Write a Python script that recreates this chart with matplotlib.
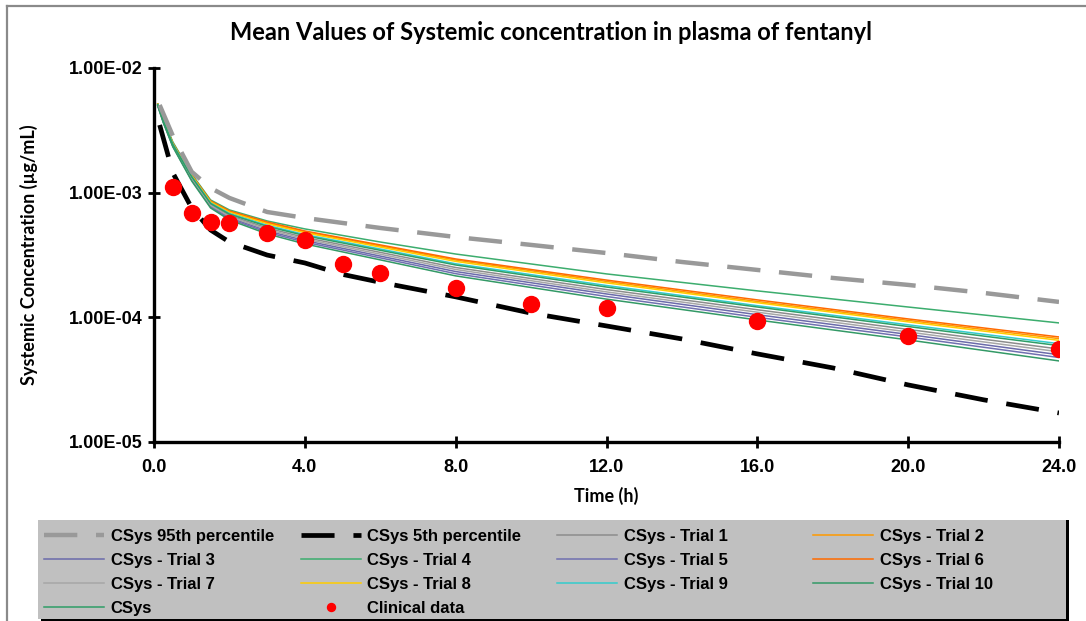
import numpy as np
import matplotlib
matplotlib.use("Agg")
import matplotlib.pyplot as plt
from matplotlib.lines import Line2D
from matplotlib.patches import Rectangle

# simulated time points (h)
t_sim = [0.1, 0.25, 0.5, 1, 1.5, 2, 3, 4, 6, 8, 12, 16, 20, 24]

# mean systemic concentration per trial (ug/mL)
trial_1 = [5.05e-3, 3.73e-3, 2.41e-3, 1.31e-3, 8.05e-4, 6.56e-4, 5.21e-4, 4.37e-4, 3.32e-4, 2.51e-4, 1.67e-4, 1.15e-4, 8.00e-5, 5.57e-5]
trial_2 = [5.13e-3, 3.81e-3, 2.49e-3, 1.38e-3, 8.50e-4, 7.05e-4, 5.73e-4, 4.85e-4, 3.74e-4, 2.88e-4, 1.94e-4, 1.34e-4, 9.45e-5, 6.75e-5]
trial_3 = [5.00e-3, 3.68e-3, 2.37e-3, 1.28e-3, 7.80e-4, 6.31e-4, 4.94e-4, 4.13e-4, 3.10e-4, 2.33e-4, 1.54e-4, 1.05e-4, 7.29e-5, 5.01e-5]
trial_4 = [5.14e-3, 3.83e-3, 2.55e-3, 1.41e-3, 8.74e-4, 7.27e-4, 5.93e-4, 5.12e-4, 4.02e-4, 3.22e-4, 2.23e-4, 1.63e-4, 1.21e-4, 9.02e-5]
trial_5 = [4.98e-3, 3.65e-3, 2.35e-3, 1.26e-3, 7.68e-4, 6.18e-4, 4.81e-4, 4.01e-4, 3.00e-4, 2.24e-4, 1.47e-4, 1.00e-4, 6.96e-5, 4.76e-5]
trial_6 = [5.14e-3, 3.83e-3, 2.50e-3, 1.39e-3, 8.58e-4, 7.13e-4, 5.82e-4, 4.93e-4, 3.81e-4, 2.94e-4, 1.99e-4, 1.38e-4, 9.71e-5, 6.96e-5]
trial_7 = [5.02e-3, 3.70e-3, 2.39e-3, 1.30e-3, 7.92e-4, 6.43e-4, 5.07e-4, 4.25e-4, 3.21e-4, 2.42e-4, 1.60e-4, 1.10e-4, 7.63e-5, 5.29e-5]
trial_8 = [5.11e-3, 3.80e-3, 2.47e-3, 1.37e-3, 8.43e-4, 6.97e-4, 5.64e-4, 4.77e-4, 3.66e-4, 2.81e-4, 1.89e-4, 1.31e-4, 9.20e-5, 6.54e-5]
trial_9 = [5.09e-3, 3.77e-3, 2.45e-3, 1.35e-3, 8.27e-4, 6.81e-4, 5.47e-4, 4.61e-4, 3.53e-4, 2.69e-4, 1.80e-4, 1.24e-4, 8.71e-5, 6.15e-5]
trial_10 = [4.96e-3, 3.62e-3, 2.33e-3, 1.24e-3, 7.54e-4, 6.04e-4, 4.67e-4, 3.88e-4, 2.89e-4, 2.15e-4, 1.40e-4, 9.53e-5, 6.59e-5, 4.47e-5]
csys = [5.07e-3, 3.75e-3, 2.43e-3, 1.34e-3, 8.19e-4, 6.72e-4, 5.37e-4, 4.52e-4, 3.45e-4, 2.63e-4, 1.75e-4, 1.21e-4, 8.44e-5, 5.93e-5]

# percentiles
t_p95 = [0.15, 0.5, 1, 1.5, 2, 3, 4, 6, 8, 10, 12, 14, 16, 18, 20, 22, 24]
p95 = [5.05e-3, 2.85e-3, 1.47e-3, 1.09e-3, 9.07e-4, 7.00e-4, 6.27e-4, 5.21e-4, 4.41e-4, 3.81e-4, 3.28e-4,
       2.78e-4, 2.40e-4, 2.07e-4, 1.82e-4, 1.57e-4, 1.33e-4]
t_p5 = [0.15, 0.37, 0.5, 1, 1.5, 2, 3, 4, 5, 6, 8, 10, 12, 14, 16, 18, 20, 22, 24]
p5 = [3.49e-3, 2.01e-3, 1.44e-3, 7.54e-4, 5.02e-4, 4.02e-4, 3.16e-4, 2.73e-4, 2.21e-4, 1.91e-4, 1.46e-4,
      1.08e-4, 8.53e-5, 6.71e-5, 5.09e-5, 3.93e-5, 2.87e-5, 2.18e-5, 1.71e-5]

# clinical observations
t_clin = [0.5, 1, 1.5, 2, 3, 4, 5, 6, 8, 10, 12, 16, 20, 24]
c_clin = [1.12e-3, 6.91e-4, 5.85e-4, 5.68e-4, 4.78e-4, 4.18e-4, 2.68e-4, 2.26e-4, 1.71e-4, 1.28e-4, 1.18e-4,
          9.41e-5, 7.09e-5, 5.55e-5]

trials = [trial_1, trial_2, trial_3, trial_4, trial_5, trial_6, trial_7, trial_8, trial_9, trial_10]
trial_colors = ['#8c8c8c', '#ff9900', '#6b6baa', '#3cad6e', '#7070b0', '#ff6a00',
                '#a6a6a6', '#ffcc00', '#33cccc', '#339966']

W, H = 1086, 621
fig = plt.figure(figsize=(W / 100, H / 100), dpi=100)
fig.patch.set_facecolor('white')

# outer chart frame (top and left edges visible)
fig.add_artist(Line2D([7 / W, 1], [1 - 6 / H, 1 - 6 / H], color='#8a8a8a', lw=1.6))
fig.add_artist(Line2D([7 / W, 7 / W], [0, 1 - 6 / H], color='#8a8a8a', lw=1.6))

ax = fig.add_axes([154 / W, 1 - 442 / H, 905 / W, 374 / H])

handles = {}
handles['p95'], = ax.plot(t_p95, p95, color='#999999', lw=3.2, dashes=(7.5, 4.2),
                          label='CSys 95th percentile', zorder=3)
handles['p5'], = ax.plot(t_p5, p5, color='black', lw=3.4, dashes=(7.0, 4.0),
                         label='CSys 5th percentile', zorder=3)
for i, (vals, col) in enumerate(zip(trials, trial_colors)):
    handles['t%d' % (i + 1)], = ax.plot(t_sim, vals, color=col, lw=1.1,
                                        label='CSys - Trial %d' % (i + 1), zorder=2)
handles['csys'], = ax.plot(t_sim, csys, color='#2e9e66', lw=1.1, label='CSys', zorder=2)
handles['clin'], = ax.plot(t_clin, c_clin, 'o', color='red', ms=11.5, mec='red',
                           label='Clinical data', zorder=4)

ax.set_yscale('log')
ax.set_ylim(1e-5, 1e-2)
ax.set_xlim(0, 24)
ax.set_xticks(np.arange(0, 25, 4))
ax.set_xticklabels(['%.1f' % v for v in np.arange(0, 25, 4)])
ax.set_yticks([1e-5, 1e-4, 1e-3, 1e-2])
ax.set_yticklabels(['1.00E-05', '1.00E-04', '1.00E-03', '1.00E-02'])
ax.yaxis.set_minor_locator(matplotlib.ticker.NullLocator())

for s in ['top', 'right']:
    ax.spines[s].set_visible(False)
for s in ['left', 'bottom']:
    ax.spines[s].set_linewidth(2.4)
ax.tick_params(axis='both', direction='inout', length=8, width=2, labelsize=13)
ax.tick_params(axis='x', pad=8)
ax.tick_params(axis='y', pad=4)
for lab in ax.get_xticklabels() + ax.get_yticklabels():
    lab.set_fontweight('bold')
    lab.set_fontfamily('Liberation Sans')

ax.set_xlabel('Time (h)', fontsize=13, fontweight='bold', family='Lato', labelpad=8)
ax.set_ylabel('Systemic Concentration (µg/mL)', fontsize=13, fontweight='bold', family='Lato')
ax.yaxis.set_label_coords(-(154 - 38) / 905, 0.5)

fig.text(0.507, 1 - 32 / H, 'Mean Values of Systemic concentration in plasma of fentanyl',
         ha='center', va='center', fontsize=17, fontweight='bold', family='Lato')

# legend panel: grey box with black drop shadow
fig.add_artist(Rectangle((41 / W, -0.01), 1028 / W, 1 - 517 / H + 0.01 - 3 / H,
                         transform=fig.transFigure, facecolor='black', edgecolor='none', zorder=5))
fig.add_artist(Rectangle((38 / W, 2 / H), 1028 / W, 1 - 520 / H - 2 / H,
                         transform=fig.transFigure, facecolor='#c0c0c0', edgecolor='none', zorder=6))

columns = [['p95', 't3', 't7', 'csys'], ['p5', 't4', 't8', 'clin'],
           ['t1', 't5', 't9'], ['t2', 't6', 't10']]
for k, keys in enumerate(columns):
    leg = fig.legend([handles[key] for key in keys], [handles[key].get_label() for key in keys],
                     loc='upper left', bbox_to_anchor=((44 + 256.5 * k) / W, 1 - 529 / H),
                     prop={'family': 'Liberation Sans', 'weight': 'bold', 'size': 12},
                     handlelength=3.6, handletextpad=0.4, labelspacing=0.54,
                     borderpad=0, borderaxespad=0, markerscale=0.5, frameon=False)
    leg.set_zorder(7)

fig.savefig('out.png', dpi=100)
